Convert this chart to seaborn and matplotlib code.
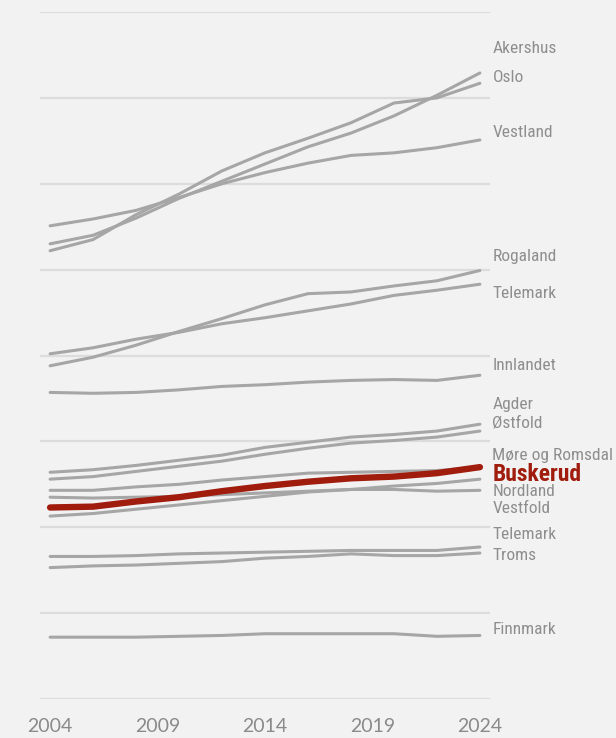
import pandas as pd
import seaborn as sns
import matplotlib.pyplot as plt

sns.set_theme(style="white")
plt.rcParams["font.family"] = ["Roboto Condensed", "DejaVu Sans"]
plt.rcParams["font.stretch"] = "condensed"

# Years shown on the x axis, series read every second year
years = [2004, 2006, 2008, 2010, 2012, 2014, 2016, 2018, 2020, 2022, 2024]
tick_years = [2004, 2009, 2014, 2019, 2024]

akershus = [53.0, 54.0, 56.0, 58.3, 60.3, 62.3, 64.3, 65.9, 67.9, 70.3, 72.9]
oslo = [52.2, 53.5, 56.4, 58.8, 61.5, 63.6, 65.3, 67.1, 69.4, 70.0, 71.7]
vestland = [55.1, 55.9, 56.9, 58.4, 60.0, 61.3, 62.4, 63.3, 63.6, 64.2, 65.1]
rogaland = [38.8, 39.8, 41.2, 42.8, 44.3, 45.9, 47.2, 47.4, 48.1, 48.7, 49.9]
telemark = [40.2, 40.9, 41.9, 42.7, 43.7, 44.4, 45.2, 46.0, 47.0, 47.6, 48.3]
innlandet = [35.7, 35.6, 35.7, 36.0, 36.4, 36.6, 36.9, 37.1, 37.2, 37.1, 37.7]
agder = [26.4, 26.7, 27.2, 27.8, 28.4, 29.3, 29.9, 30.5, 30.8, 31.2, 32.0]
ostfold = [25.6, 25.9, 26.5, 27.1, 27.7, 28.5, 29.2, 29.8, 30.1, 30.5, 31.2]
more_romsdal = [24.3, 24.3, 24.7, 25.0, 25.5, 25.9, 26.3, 26.4, 26.5, 26.6, 27.0]
buskerud = [22.3, 22.4, 23.0, 23.5, 24.2, 24.8, 25.3, 25.7, 25.9, 26.3, 27.0]
nordland = [23.5, 23.4, 23.5, 23.6, 23.8, 24.0, 24.2, 24.4, 24.4, 24.2, 24.3]
vestfold = [21.3, 21.6, 22.1, 22.6, 23.1, 23.6, 24.1, 24.4, 24.8, 25.1, 25.6]
telemark_2 = [16.6, 16.6, 16.7, 16.9, 17.0, 17.1, 17.2, 17.3, 17.3, 17.3, 17.7]
troms = [15.3, 15.5, 15.6, 15.8, 16.0, 16.4, 16.6, 16.9, 16.7, 16.7, 17.0]
finnmark = [7.2, 7.2, 7.2, 7.3, 7.4, 7.6, 7.6, 7.6, 7.6, 7.3, 7.4]

series = {
    "Akershus": akershus, "Oslo": oslo, "Vestland": vestland,
    "Rogaland": rogaland, "Telemark": telemark, "Innlandet": innlandet,
    "Agder": agder, "Østfold": ostfold, "Møre og Romsdal": more_romsdal,
    "Buskerud": buskerud, "Nordland": nordland, "Vestfold": vestfold,
    "Telemark 2": telemark_2, "Troms": troms, "Finnmark": finnmark,
}

# label text and where it sits next to the line ends
label_names = ["Akershus", "Oslo", "Vestland", "Rogaland", "Telemark", "Innlandet",
               "Agder", "Østfold", "Møre og Romsdal", "Buskerud", "Nordland",
               "Vestfold", "Telemark", "Troms", "Finnmark"]
label_y = [75.7, 72.4, 66.0, 51.5, 47.2, 38.8, 34.3, 32.1, 28.4, 26.2, 24.2,
           22.2, 19.1, 16.7, 8.1]

df = pd.DataFrame(
    [(name, y, v) for name, vals in series.items() for y, v in zip(years, vals)],
    columns=["fylke", "year", "value"],
)

bg = "#f2f2f2"
grey_line = "#a6a6a6"
red = "#a01c0c"
text_grey = "#8e8e8e"

fig = plt.figure(figsize=(6.16, 7.38), dpi=100, facecolor=bg)
ax = fig.add_axes([40 / 616, 39 / 738, 450 / 616, 687 / 738])
ax.set_facecolor(bg)

for name in series:
    if name == "Buskerud":
        continue
    sns.lineplot(data=df[df.fylke == name], x="year", y="value", ax=ax,
                 color=grey_line, linewidth=2.2, solid_capstyle="round", zorder=3)
sns.lineplot(data=df[df.fylke == "Buskerud"], x="year", y="value", ax=ax,
             color=red, linewidth=4.6, solid_capstyle="round", zorder=4)

ax.set_xlim(2003.53, 2024.47)
ax.set_ylim(0, 80)
ax.set_yticks(range(0, 81, 10))
ax.yaxis.grid(True, color="#dcdcdc", linewidth=1.6)
ax.set_axisbelow(True)
ax.set_yticklabels([])
ax.set_xticks(tick_years)
ax.set_xticklabels([str(t) for t in tick_years], family=["Lato", "DejaVu Sans"],
                   fontstretch="normal", fontsize=14, color="#8a8a8a")
ax.tick_params(axis="x", length=0, pad=14)
ax.tick_params(axis="y", length=0)
ax.set_xlabel("")
ax.set_ylabel("")
for s in ax.spines.values():
    s.set_visible(False)

for txt, yv in zip(label_names, label_y):
    if txt == "Buskerud":
        ax.annotate(txt, xy=(years[-1], yv), xytext=(9, 0), textcoords="offset points",
                    va="center", ha="left", fontsize=17, fontweight="bold",
                    color=red, annotation_clip=False)
    else:
        ax.annotate(txt, xy=(years[-1], yv), xytext=(9, 0), textcoords="offset points",
                    va="center", ha="left", fontsize=12.5, color=text_grey,
                    annotation_clip=False)

fig.savefig("out.png", dpi=100, facecolor=bg)
